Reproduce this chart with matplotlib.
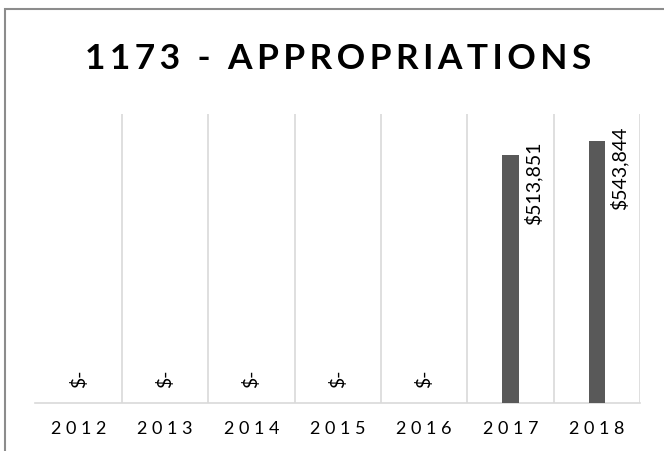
import matplotlib.pyplot as plt
from matplotlib.patches import Rectangle

years = ["2012", "2013", "2014", "2015", "2016", "2017", "2018"]
appropriations = [0, 0, 0, 0, 0, 513851, 543844]
value_labels = ["$-", "$-", "$-", "$-", "$-", "$513,851", "$543,844"]
title = "1173 - APPROPRIATIONS"

plt.rcParams["font.family"] = ["Lato", "DejaVu Sans"]

W, H = 664, 452
fig = plt.figure(figsize=(W / 100, H / 100), dpi=100)
# outer chart border (only left and top edges visible in the crop)
fig.patches.append(Rectangle((5 / W, -0.1), 1.2, 1 - 10 / H + 0.1,
                             transform=fig.transFigure, fill=False,
                             edgecolor="#8c8c8c", linewidth=1.5))

ax = fig.add_axes([35.5 / W, 48 / H, 604.5 / W, 289 / H])
x = range(len(years))
ax.bar(x, appropriations, width=0.19, color="#595959", zorder=3)
ax.set_xlim(-0.5, len(years) - 0.5)
ax.set_ylim(0, 600000)

for i in range(len(years) + 1):
    ax.axvline(i - 0.5, color="#d9d9d9", linewidth=1.2, zorder=1)
for s in ["top", "right", "left"]:
    ax.spines[s].set_visible(False)
ax.spines["bottom"].set_color("#d9d9d9")
ax.spines["bottom"].set_linewidth(1.2)
ax.set_yticks([])
ax.set_xticks(list(x))
ax.set_xticklabels([" ".join(y) for y in years], fontsize=13)
ax.tick_params(axis="x", length=0, pad=12)

for i, (v, lab) in enumerate(zip(appropriations, value_labels)):
    if v == 0:
        ax.annotate(lab, (i, 0), xytext=(0, 18), textcoords="offset points",
                    rotation=90, ha="center", va="center", fontsize=14)
    else:
        ax.annotate(lab, (i + 0.095, v), xytext=(3.5, 11), textcoords="offset points",
                    rotation=90, ha="left", va="top", fontsize=14)

fig.text(338 / W, 1 - 69 / H, "\u2009".join(title), ha="center", va="baseline",
         fontsize=25.5, fontweight="bold")

fig.savefig("out.png")
